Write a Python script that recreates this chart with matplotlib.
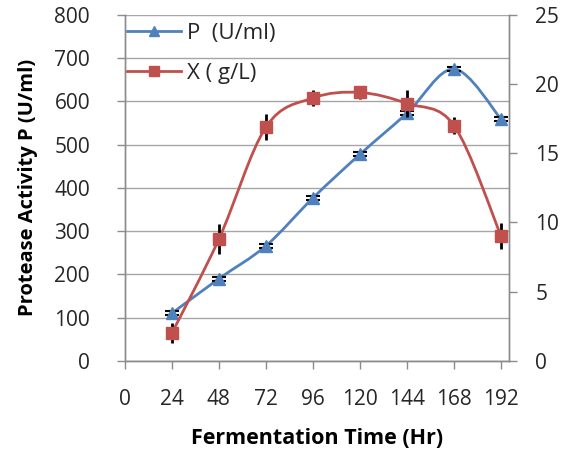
import matplotlib
matplotlib.use("Agg")
import matplotlib.pyplot as plt
from matplotlib.path import Path
from matplotlib.patches import PathPatch
from matplotlib.lines import Line2D

plt.rcParams['font.family'] = ['Open Sans', 'DejaVu Sans']

hours = [24, 48, 72, 96, 120, 144, 168, 192]
protease = [110, 190, 266, 377, 478, 573, 675, 559]
protease_err = [5, 5, 5, 5, 5, 5, 5, 5]
biomass = [2.0, 8.8, 16.9, 19.0, 19.4, 18.6, 17.0, 9.0]
biomass_err = [0.7, 1.1, 0.95, 0.6, 0.45, 1.0, 0.6, 0.95]
xticks = [0, 24, 48, 72, 96, 120, 144, 168, 192]

blue = '#4F81BD'
red = '#C0504D'
grey = '#8C8C8C'
text_c = '#262626'


def smooth_path(xs, ys):
    # Excel-style smoothed line as cubic Bezier segments through the points
    pts = list(zip(xs, ys))
    verts = [pts[0]]
    codes = [Path.MOVETO]
    n = len(pts)
    for i in range(n - 1):
        p0 = pts[max(i - 1, 0)]
        p1 = pts[i]
        p2 = pts[i + 1]
        p3 = pts[min(i + 2, n - 1)]
        c1 = (p1[0] + (p2[0] - p0[0]) / 6, p1[1] + (p2[1] - p0[1]) / 6)
        c2 = (p2[0] - (p3[0] - p1[0]) / 6, p2[1] - (p3[1] - p1[1]) / 6)
        verts += [c1, c2, p2]
        codes += [Path.CURVE4] * 3
    return Path(verts, codes)


fig = plt.figure(figsize=(5.7, 4.55), dpi=100)
ax = fig.add_axes([0.219, 0.207, 0.674, 0.760])
ax2 = ax.twinx()

# protease on left axis
ax.add_patch(PathPatch(smooth_path(hours, protease), fill=False, edgecolor=blue, lw=2, zorder=3))
ax.errorbar(hours, protease, yerr=protease_err, fmt='none', ecolor='black', elinewidth=1.5,
            capsize=5, capthick=1.5, zorder=4)
ax.plot(hours, protease, linestyle='none', marker='^', markersize=8.5, color=blue, zorder=5)

# biomass on right axis
ax2.add_patch(PathPatch(smooth_path(hours, biomass), fill=False, edgecolor=red, lw=2, zorder=3))
ax2.errorbar(hours, biomass, yerr=biomass_err, fmt='none', ecolor='black', elinewidth=2,
             capsize=0, zorder=4)
ax2.plot(hours, biomass, linestyle='none', marker='s', markersize=9, color=red, zorder=5)

ax.set_xlim(0, 196)
ax.set_ylim(0, 800)
ax2.set_ylim(0, 25)
ax.set_xticks(xticks)
ax.set_yticks(range(0, 801, 100))
ax2.set_yticks(range(0, 26, 5))

ax.grid(axis='y', color='#A6A6A6', lw=1)
ax.set_axisbelow(True)

for a in (ax, ax2):
    a.spines['top'].set_visible(False)
    for s in ('left', 'right', 'bottom'):
        a.spines[s].set_color(grey)
        a.spines[s].set_linewidth(1)
    a.tick_params(colors=grey, labelcolor=text_c, labelsize=15, length=6, width=1, direction='out')
ax.tick_params(axis='y', pad=19)
ax.tick_params(axis='x', pad=14)
ax2.tick_params(axis='y', pad=13)

ax.set_xlabel('Fermentation Time (Hr)', fontsize=15.5, fontweight='bold', color='black', labelpad=13)
ax.set_ylabel('Protease Activity P (U/ml)', fontsize=14.5, fontweight='bold', color='black', labelpad=12)

handles = [Line2D([], [], color=blue, lw=2, marker='^', markersize=7),
           Line2D([], [], color=red, lw=2, marker='s', markersize=7)]
ax.legend(handles, ['P  (U/ml)', 'X ( g/L)'], loc='upper left', frameon=False, fontsize=16,
          handlelength=2.4, handletextpad=0.3, labelspacing=0.85,
          bbox_to_anchor=(-0.028, 1.016), borderaxespad=0.2, labelcolor=text_c)

fig.savefig('out.png', dpi=100)
